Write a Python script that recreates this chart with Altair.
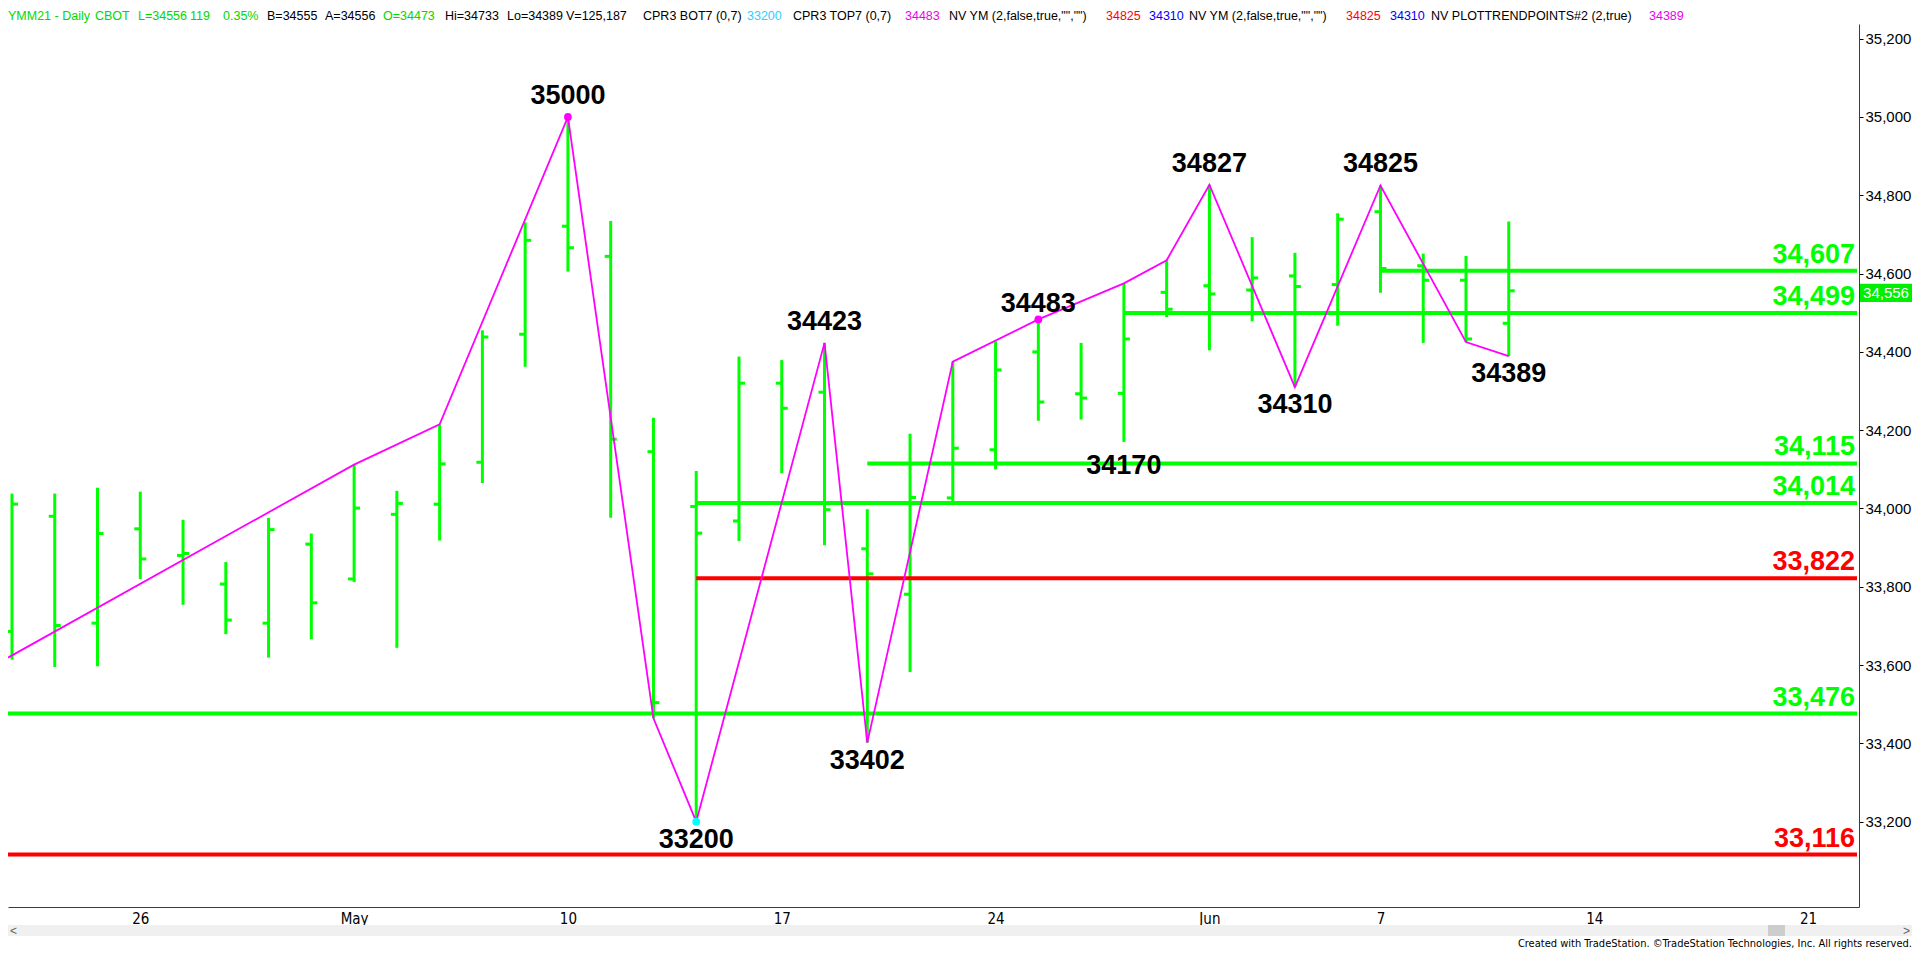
import altair as alt
import pandas as pd

# ---------------- data ----------------
GREEN = "#00ff00"
RED = "#ff0000"
MAG = "#ff00ff"
CYAN = "#00ffff"

# trading-day index 0 = Apr 21 2021 ... 35 = Jun 10 2021
bar_idx = list(range(36))
bar_open = [33686, 33980, 33707, 33948, 33880, 33807, 33707, 33909, 33820, 33985,
            34011, 34118, 34445, 34721, 34644, 34145, 34005, 33968, 34320, 34297,
            33897, 33781, 34027, 34150, 34400, 34293, 34294, 34552, 34569, 34558,
            34594, 34572, 34758, 34620, 34583, 34473]
bar_high = [34038, 34038, 34053, 34043, 33971, 33863, 33976, 33936, 34112, 34045,
            34215, 34455, 34731, 35000, 34734, 34232, 34096, 34388, 34379, 34423,
            33998, 34191, 34375, 34427, 34490, 34423, 34575, 34634, 34827, 34693,
            34653, 34754, 34825, 34651, 34645, 34733]
bar_low = [33614, 33595, 33597, 33820, 33754, 33679, 33619, 33666, 33812, 33644,
           33918, 34065, 34362, 34605, 33976, 33464, 33200, 33917, 34090, 33906,
           33402, 33582, 34019, 34100, 34224, 34227, 34170, 34489, 34404, 34478,
           34310, 34467, 34551, 34423, 34425, 34389]
bar_close = [34011, 33701, 33936, 33871, 33885, 33715, 33946, 33759, 34001, 34013,
             34114, 34438, 34685, 34666, 34177, 33504, 33937, 34320, 34256, 33997,
             33833, 34028, 34154, 34354, 34272, 34282, 34433, 34509, 34548, 34589,
             34567, 34739, 34613, 34583, 34433, 34556]

X_MIN, X_MAX = -0.093, 43.19
Y_MIN, Y_MAX = 32982, 35237.5

zz_idx = [X_MIN, 8, 10, 13, 15, 16, 19, 20, 22, 24, 26, 27, 28, 30, 32, 34, 35]
zz_val = [33619, 34112, 34215, 35000, 33464, 33200, 34423, 33402, 34375, 34483,
          34575, 34634, 34827, 34310, 34825, 34425, 34389]

pivot_idx = [13, 19, 16, 20, 24, 26, 30, 28, 32, 35]
pivot_val = [35000, 34423, 33200, 33402, 34483, 34170, 34310, 34827, 34825, 34389]
pivot_pos = ["above", "above", "below", "below", "near", "far", "below", "above", "above", "below"]

dot_idx = [13, 16, 24]
dot_val = [35000, 33200, 34483]
dot_col = [MAG, CYAN, MAG]

level_val = [34607, 34499, 34115, 34014, 33822, 33476, 33116]
level_start = [32, 26, 20, 16, 16, X_MIN, X_MIN]
level_col = [GREEN, GREEN, GREEN, GREEN, RED, GREEN, RED]

x_tick_idx = [3, 8, 13, 18, 23, 28, 32, 37, 42]
x_tick_lbl = ["26", "May", "10", "17", "24", "Jun", "7", "14", "21"]
y_ticks = [33200, 33400, 33600, 33800, 34000, 34200, 34400, 34600, 34800, 35000, 35200]

last_price = 34556

HG = "#00d800"
header_txt = ["YMM21 - Daily", "CBOT", "L=34556", "119", "0.35%", "B=34555", "A=34556",
              "O=34473", "Hi=34733", "Lo=34389", "V=125,187", "CPR3 BOT7 (0,7)", "33200",
              "CPR3 TOP7 (0,7)", "34483", 'NV YM (2,false,true,"","")', "34825", "34310",
              'NV YM (2,false,true,"","")', "34825", "34310", "NV  PLOTTRENDPOINTS#2 (2,true)",
              "34389"]
header_x = [2, 95, 138, 190, 223, 267, 325, 383, 445, 507, 566, 643, 747, 793, 905, 949,
            1106, 1149, 1189, 1346, 1390, 1431, 1649]
header_col = [HG, HG, HG, HG, HG, "#000000", "#000000", HG, "#000000", "#000000", "#000000",
              "#000000", "#33ccff", "#000000", "#ee00ee", "#000000", RED, "#0000ff", "#000000",
              RED, "#0000ff", "#000000", "#ee00ee"]

# ---------------- tables ----------------
bars = pd.DataFrame({"idx": bar_idx, "open": bar_open, "high": bar_high,
                     "low": bar_low, "close": bar_close})
zz = pd.DataFrame({"idx": zz_idx, "val": zz_val, "seq": list(range(len(zz_idx)))})
piv = pd.DataFrame({"idx": pivot_idx, "val": pivot_val, "pos": pivot_pos,
                    "lbl": [str(v) for v in pivot_val]})
dots = pd.DataFrame({"idx": dot_idx, "val": dot_val, "col": dot_col})
levels = pd.DataFrame({"start": level_start, "val": level_val, "col": level_col,
                       "lbl": [f"{v:,}" for v in level_val]})
head = pd.DataFrame({"t": header_txt, "hx": [max(x - 8, 0) for x in header_x], "c": header_col})
lastdf = pd.DataFrame({"val": [last_price], "lbl": [f"{last_price:,}"]})

FONT = "Liberation Sans, Arial, sans-serif"
NARROW = "Liberation Sans Narrow, Arial Narrow, DejaVu Sans Condensed, sans-serif"

xscale = alt.Scale(domain=[X_MIN, X_MAX], nice=False, zero=False)
yscale = alt.Scale(domain=[Y_MIN, Y_MAX], nice=False, zero=False)

label_expr = " : ".join([f"datum.value == {i} ? '{l}'" for i, l in zip(x_tick_idx, x_tick_lbl)]) + " : ''"

x_axis = alt.Axis(values=x_tick_idx, labelExpr=label_expr, ticks=False, grid=False, title=None,
                  domainColor="#cc0000", domainWidth=1, labelFont=NARROW, labelFontSize=15,
                  labelColor="black", labelPadding=4, labelFlush=False)
y_axis = alt.Axis(orient="right", values=y_ticks, labelExpr="format(datum.value, ',')",
                  grid=False, title=None,
                  domainColor="#cc0000", domainWidth=1, tickColor="black", tickSize=4,
                  labelFont=FONT, labelFontSize=15, labelColor="black", labelPadding=2)


def XE(field):
    return alt.X(field, scale=xscale, axis=x_axis)


def YE(field):
    return alt.Y(field, scale=yscale, axis=y_axis)


hl = alt.Chart(bars).mark_rule(color=GREEN, strokeWidth=3).encode(
    x=XE("idx:Q"), y=YE("low:Q"), y2="high:Q")
op = alt.Chart(bars).mark_rule(color=GREEN, strokeWidth=3, xOffset=-6).encode(
    x=XE("idx:Q"), x2="idx:Q", y=YE("open:Q"))
cl = alt.Chart(bars).mark_rule(color=GREEN, strokeWidth=3, x2Offset=6).encode(
    x=XE("idx:Q"), x2="idx:Q", y=YE("close:Q"))

lv = alt.Chart(levels).mark_rule(strokeWidth=4).encode(
    x=XE("start:Q"), x2=alt.value(1849), y=YE("val:Q"),
    color=alt.Color("col:N", scale=None))

lv_txt = alt.Chart(levels).mark_text(align="right", baseline="alphabetic", dy=-8,
                                     font=FONT, fontSize=27, fontWeight="bold").encode(
    x=alt.value(1847), y=YE("val:Q"), text="lbl:N",
    color=alt.Color("col:N", scale=None))

zzl = alt.Chart(zz).mark_line(color=MAG, strokeWidth=1.8).encode(
    x=XE("idx:Q"), y=YE("val:Q"), order="seq:Q")

dt = alt.Chart(dots).mark_point(filled=True, size=60, opacity=1).encode(
    x=XE("idx:Q"), y=YE("val:Q"), color=alt.Color("col:N", scale=None))

offsets = {"above": -21, "near": -15, "below": 18, "far": 24}
plabels = []
for pos, d in offsets.items():
    plabels.append(alt.Chart(piv).transform_filter(alt.datum.pos == pos).mark_text(
        dy=d, align="center", baseline="middle", font=FONT, fontSize=27,
        fontWeight="bold", color="black").encode(
        x=XE("idx:Q"), y=YE("val:Q"), text="lbl:N"))

hdr = alt.Chart(head).mark_text(align="left", baseline="alphabetic", font=FONT,
                                fontSize=12.5).encode(
    x=alt.X("hx:Q", scale=None, axis=None), y=alt.value(-4), text="t:N",
    color=alt.Color("c:N", scale=None))

box = alt.Chart(lastdf).mark_point(filled=True, shape="M-1,-0.35L1,-0.35L1,0.35L-1,0.35Z",
                                   size=2704, opacity=1, color="#00ee00", strokeWidth=0,
                                   yOffset=2).encode(
    x=alt.value(1878), y=YE("val:Q"))
box_txt = alt.Chart(lastdf).mark_text(align="center", baseline="middle", font=FONT,
                                      fontSize=15, color="white", yOffset=2).encode(
    x=alt.value(1878), y=YE("val:Q"), text="lbl:N")

# scrollbar + credit line (pixel positions relative to the plot's top-left corner)
sb = alt.Chart(lastdf).mark_rect(color="#f0f0f0").encode(
    x=alt.value(0), x2=alt.value(1904), y=alt.value(901), y2=alt.value(912))
sb_thumb = alt.Chart(lastdf).mark_rect(color="#cdcdcd").encode(
    x=alt.value(1760), x2=alt.value(1777), y=alt.value(901), y2=alt.value(912))
sb_l = alt.Chart(lastdf).mark_text(text="<", font=FONT, fontSize=12, color="#606060",
                                   align="left", baseline="middle").encode(
    x=alt.value(2), y=alt.value(906.5))
sb_r = alt.Chart(lastdf).mark_text(text=">", font=FONT, fontSize=12, color="#606060",
                                   align="right", baseline="middle").encode(
    x=alt.value(1902), y=alt.value(906.5))
credit = alt.Chart(lastdf).mark_text(
    text="Created with TradeStation. \u00a9TradeStation Technologies, Inc. All rights reserved.",
    font=NARROW, fontSize=11, color="black", align="right", baseline="alphabetic").encode(
    x=alt.value(1904), y=alt.value(923))

chart = alt.layer(hl, op, cl, lv, zzl, dt, *plabels, lv_txt, hdr, box, box_txt,
                  sb, sb_thumb, sb_l, sb_r, credit).properties(
    width=1851, height=883,
    padding={"left": 0, "top": 16, "right": 53, "bottom": 43},
    autosize=alt.AutoSizeParams(type="none"),
    background="white",
).configure_view(stroke=None)

chart.save("out.html", embed_options={"renderer": "svg", "actions": False})
